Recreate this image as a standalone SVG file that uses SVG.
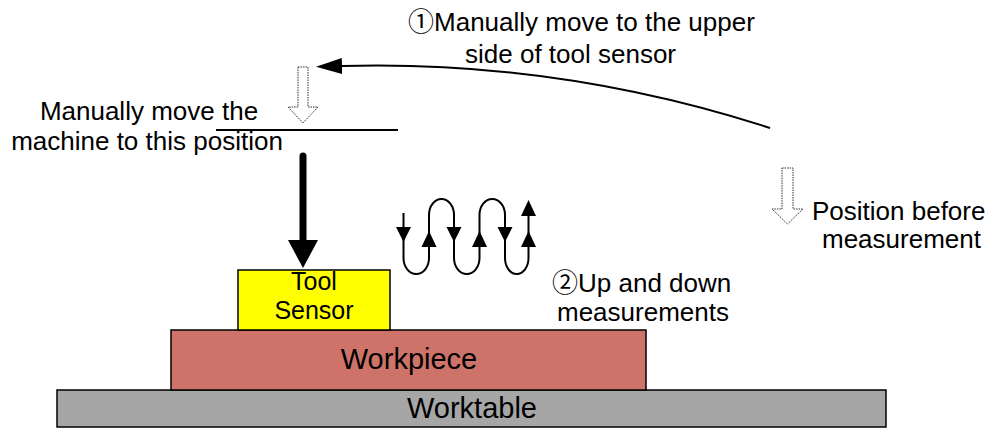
<svg xmlns="http://www.w3.org/2000/svg" width="992" height="428" viewBox="0 0 992 428">
<style>
text{font-family:"Liberation Sans",Arial,"Noto Sans CJK JP",sans-serif;fill:#000}
.lbl{font-size:26px}
.circ{font-family:"Noto Sans CJK JP","DejaVu Sans",sans-serif}
.box{stroke:#000;stroke-width:1.5}
.hollow{fill:#fff;stroke:#333;stroke-width:1;stroke-dasharray:1.5 1}
.ln{fill:none;stroke:#000;stroke-width:2}
.head{fill:#000}
</style>
<defs>
<marker id="ah" markerUnits="userSpaceOnUse" markerWidth="28" markerHeight="18" refX="0" refY="8" orient="auto" viewBox="0 0 28 16">
<path d="M0,0 L26,8 L0,16 Z" fill="#000"/>
</marker>
</defs>
<rect width="992" height="428" fill="#fff"/>

<g id="worktable">
<rect class="box" x="57" y="390" width="829" height="37" fill="#a6a6a6"/>
<text x="472" y="418" font-size="29" text-anchor="middle">Worktable</text>
</g>
<g id="workpiece">
<rect class="box" x="171" y="330" width="475" height="60" fill="#ce736a"/>
<text x="409" y="369" font-size="29" text-anchor="middle">Workpiece</text>
</g>
<g id="tool-sensor">
<rect class="box" x="238" y="270" width="152" height="60" fill="#ffff00"/>
<text x="314" y="290" font-size="25" text-anchor="middle">Tool</text>
<text x="314" y="319" font-size="25" text-anchor="middle">Sensor</text>
</g>

<g id="position-top">
<polygon class="hollow" points="298,67 308,67 308,107 318,107 303,123 288,107 298,107"/>
<line class="ln" x1="216" y1="130" x2="398" y2="130"/>
<text class="lbl" x="149" y="120" text-anchor="middle">Manually move the</text>
<text class="lbl" x="147" y="150" text-anchor="middle">machine to this position</text>
</g>

<g id="position-before">
<polygon class="hollow" points="782,168 793,168 793,209 803,209 787.5,224 772,209 782,209"/>
<text class="lbl" x="812" y="220">Position before</text>
<text class="lbl" x="822" y="248">measurement</text>
</g>

<g id="step1-label">
<text class="lbl" x="408" y="31"><tspan class="circ">①</tspan>Manually move to the upper</text>
<text class="lbl" x="465" y="63">side of tool sensor</text>
</g>

<g id="step2-label">
<text class="lbl" x="552" y="292"><tspan class="circ">②</tspan>Up and down</text>
<text class="lbl" x="557" y="321">measurements</text>
</g>

<g id="connectors">
<path class="ln" d="M770,128 Q560,60 342,66" marker-end="url(#ah)"/>
<line x1="303" y1="156" x2="303" y2="242" stroke="#000" stroke-width="7" stroke-linecap="round"/>
<polygon class="head" points="288,240 318,240 303,268"/>
<path class="ln" d="M403.5,213 L403.5,258 A12.75,16 0 0 0 429,258 L429,215 A12.5,16 0 0 1 454,215 L454,258 A12.75,16 0 0 0 479.5,258 L479.5,215 A12.75,16 0 0 1 505,215 L505,258 A11.75,16 0 0 0 528.5,258 L528.5,212"/>
<polygon class="head" points="396,227 411,227 403.5,242"/>
<polygon class="head" points="446.5,227 461.5,227 454,242"/>
<polygon class="head" points="497.5,227 512.5,227 505,242"/>
<polygon class="head" points="421.5,247 436.5,247 429,231"/>
<polygon class="head" points="472,247 487,247 479.5,231"/>
<polygon class="head" points="521,247 536,247 528.5,231"/>
<polygon class="head" points="521,216 536,216 528.5,200"/>
</g>
</svg>
